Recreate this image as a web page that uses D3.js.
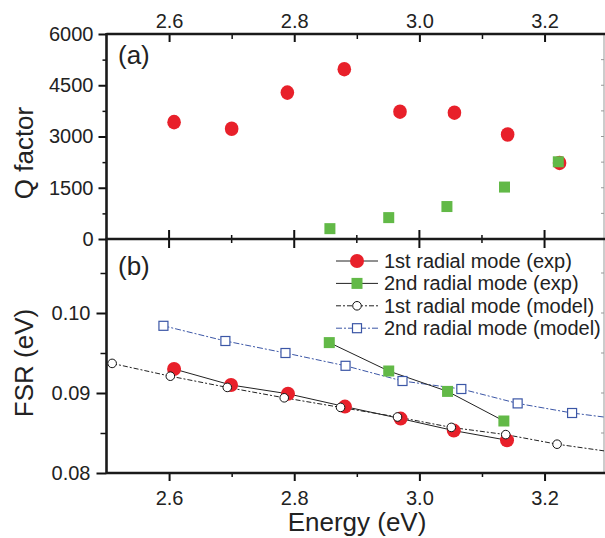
<!DOCTYPE html>
<html>
<head>
<meta charset="utf-8">
<script src="https://cdn.jsdelivr.net/npm/d3@7"></script>
<style>
  html, body { margin: 0; padding: 0; background: #fff; }
  svg { display: block; font-family: "Liberation Sans", Arial, sans-serif; }
</style>
</head>
<body>
<svg id="chart" width="605" height="538"></svg>
<script>
// panel (a): Q factor
const qEnergy1 = [2.608, 2.700, 2.789, 2.880, 2.969, 3.056, 3.141, 3.224];
const qValue1  = [3420, 3226, 4285, 4970, 3726, 3697, 3059, 2226];
const qEnergy2 = [2.857, 2.951, 3.044, 3.136, 3.222];
const qValue2  = [303, 626, 950, 1520, 2260];

// panel (b): FSR
const fsrEnergyExp1 = [2.608, 2.699, 2.790, 2.881, 2.970, 3.055, 3.140];
const fsrExp1       = [0.0930, 0.0910, 0.0899, 0.0883, 0.0868, 0.0853, 0.0841];
const fsrEnergyExp2 = [2.856, 2.951, 3.045, 3.135];
const fsrExp2       = [0.0963, 0.09275, 0.0902, 0.0865];
const fsrEnergyMod1 = [2.509, 2.602, 2.693, 2.784, 2.874, 2.965, 3.051, 3.138, 3.220, 3.310];
const fsrMod1       = [0.0937, 0.0921, 0.0907, 0.0894, 0.0882, 0.0870, 0.0857, 0.0848, 0.0836, 0.0826];
const fsrEnergyMod2 = [2.591, 2.690, 2.786, 2.882, 2.973, 3.067, 3.157, 3.244, 3.335];
const fsrMod2       = [0.0984, 0.0965, 0.0950, 0.0934, 0.0915, 0.0905, 0.0887, 0.0875, 0.0866];

const energyTicks = [2.6, 2.8, 3.0, 3.2];
const energyMinor = [2.7, 2.9, 3.1];
const qTicks = [0, 1500, 3000, 4500, 6000];
const qMinor = [750, 2250, 3750, 5250];
const fsrTicks = [0.08, 0.09, 0.10];
const fsrMinor = [0.085, 0.095, 0.105];

const legendLabels = [
  "1st radial mode (exp)",
  "2nd radial mode (exp)",
  "1st radial mode (model)",
  "2nd radial mode (model)"
];

const RED = "#e8202a", GREEN = "#62b947", BLUE = "#3b56a6";

const svg = d3.select("#chart");
const left = 106.5, right = 604, topA = 34, mid = 239, bottomB = 473;

const x = d3.scaleLinear().domain([2.5, 3.295]).range([left, right]);
const yQ = d3.scaleLinear().domain([0, 6000]).range([mid, topA]);
const yF = d3.scaleLinear().domain([0.08, 0.10]).range([bottomB, 313]);

const zip = (a, b) => a.map((v, i) => [v, b[i]]);

const defs = svg.append("defs");
defs.append("clipPath").attr("id", "clipB")
  .append("rect").attr("x", left).attr("y", mid).attr("width", right - left).attr("height", bottomB - mid);
defs.append("clipPath").attr("id", "clipA")
  .append("rect").attr("x", left).attr("y", topA).attr("width", right - left).attr("height", mid - topA);

// same look for every axis
function styleAxis(g, width) {
  g.select(".domain").remove();
  g.selectAll(".tick line").attr("stroke", "#111").attr("stroke-width", width);
  g.selectAll("text").attr("font-size", 20).attr("fill", "#222");
}

// ---- axes
// top axis of (a), ticks inward
svg.append("g").attr("transform", `translate(0,${topA})`)
  .call(d3.axisTop(x).tickValues(energyTicks).tickSize(-8).tickPadding(6).tickFormat(d3.format(".1f")))
  .call(g => styleAxis(g, 2));
svg.append("g").attr("transform", `translate(0,${topA})`)
  .call(d3.axisTop(x).tickValues(energyMinor).tickSize(-5).tickFormat(""))
  .call(g => styleAxis(g, 1.5));

// left axis of (a)
svg.append("g").attr("transform", `translate(${left},0)`)
  .call(d3.axisLeft(yQ).tickValues(qTicks).tickSize(8).tickPadding(5).tickFormat(d3.format("d")))
  .call(g => styleAxis(g, 2));
svg.append("g").attr("transform", `translate(${left},0)`)
  .call(d3.axisLeft(yQ).tickValues(qMinor).tickSize(4).tickFormat(""))
  .call(g => styleAxis(g, 1.5));

// left axis of (b)
svg.append("g").attr("transform", `translate(${left},0)`)
  .call(d3.axisLeft(yF).tickValues(fsrTicks).tickSize(10).tickPadding(6).tickFormat(d3.format(".2f")))
  .call(g => styleAxis(g, 2));
svg.append("g").attr("transform", `translate(${left},0)`)
  .call(d3.axisLeft(yF).tickValues(fsrMinor).tickSize(6).tickFormat(""))
  .call(g => styleAxis(g, 1.5));

// bottom axis of (b)
svg.append("g").attr("transform", `translate(0,${bottomB})`)
  .call(d3.axisBottom(x).tickValues(energyTicks).tickSize(8).tickPadding(10).tickFormat(d3.format(".1f")))
  .call(g => styleAxis(g, 2));
svg.append("g").attr("transform", `translate(0,${bottomB})`)
  .call(d3.axisBottom(x).tickValues(energyMinor).tickSize(4).tickFormat(""))
  .call(g => styleAxis(g, 1.5));

// shared middle line: ticks cross both panels
const midTicks = svg.append("g");
midTicks.selectAll("line.maj").data(energyTicks).join("line")
  .attr("x1", d => x(d)).attr("x2", d => x(d)).attr("y1", mid - 9).attr("y2", mid + 9)
  .attr("stroke", "#111").attr("stroke-width", 2);
midTicks.selectAll("line.min").data(energyMinor).join("line")
  .attr("x1", d => x(d)).attr("x2", d => x(d)).attr("y1", mid - 4).attr("y2", mid + 4)
  .attr("stroke", "#111").attr("stroke-width", 1.5);

// right edge, thin grey with small inward ticks
svg.append("line").attr("x1", right).attr("x2", right).attr("y1", topA).attr("y2", bottomB)
  .attr("stroke", "#999").attr("stroke-width", 1);
svg.append("g").selectAll("line").data(qTicks.concat(qMinor)).join("line")
  .attr("x1", right - 3).attr("x2", right).attr("y1", d => yQ(d)).attr("y2", d => yQ(d))
  .attr("stroke", "#999");
svg.append("g").selectAll("line").data(fsrTicks.concat(fsrMinor)).join("line")
  .attr("x1", right - 3).attr("x2", right).attr("y1", d => yF(d)).attr("y2", d => yF(d))
  .attr("stroke", "#999");

// frame lines
const frame = svg.append("g").attr("stroke", "#1a1a1a").attr("stroke-width", 2.6).attr("fill", "none");
frame.append("line").attr("x1", left).attr("x2", right + 1).attr("y1", topA).attr("y2", topA);
frame.append("line").attr("x1", left - 1).attr("x2", right + 1).attr("y1", mid).attr("y2", mid);
frame.append("line").attr("x1", left).attr("x2", right + 1).attr("y1", bottomB).attr("y2", bottomB);
frame.append("line").attr("x1", left).attr("x2", left).attr("y1", topA - 1).attr("y2", bottomB + 1);

// ---- panel (a) markers
const gA = svg.append("g").attr("clip-path", "url(#clipA)");
gA.selectAll("ellipse").data(zip(qEnergy1, qValue1)).join("ellipse")
  .attr("cx", d => x(d[0])).attr("cy", d => yQ(d[1]))
  .attr("rx", 6.8).attr("ry", 7.3).attr("fill", RED);
gA.selectAll("rect").data(zip(qEnergy2, qValue2)).join("rect")
  .attr("x", d => x(d[0]) - 5.5).attr("y", d => yQ(d[1]) - 5.5)
  .attr("width", 11).attr("height", 11).attr("fill", GREEN);

// ---- panel (b)
const gB = svg.append("g").attr("clip-path", "url(#clipB)");
const line = d3.line().x(d => x(d[0])).y(d => yF(d[1]));

const mod2 = zip(fsrEnergyMod2, fsrMod2);
const mod1 = zip(fsrEnergyMod1, fsrMod1);
const exp1 = zip(fsrEnergyExp1, fsrExp1);
const exp2 = zip(fsrEnergyExp2, fsrExp2);

gB.append("path").datum(mod2).attr("d", line).attr("fill", "none")
  .attr("stroke", BLUE).attr("stroke-width", 1).attr("stroke-dasharray", "6,2,2,2");
gB.append("path").datum(mod1).attr("d", line).attr("fill", "none")
  .attr("stroke", "#222").attr("stroke-width", 1).attr("stroke-dasharray", "5,2,2,2");
gB.append("path").datum(exp1).attr("d", line).attr("fill", "none")
  .attr("stroke", "#222").attr("stroke-width", 1);
gB.append("path").datum(exp2).attr("d", line).attr("fill", "none")
  .attr("stroke", "#222").attr("stroke-width", 1);

gB.selectAll("circle.e1").data(exp1).join("circle")
  .attr("cx", d => x(d[0])).attr("cy", d => yF(d[1])).attr("r", 7).attr("fill", RED);
gB.selectAll("rect.e2").data(exp2).join("rect")
  .attr("x", d => x(d[0]) - 5.5).attr("y", d => yF(d[1]) - 5.5)
  .attr("width", 11).attr("height", 11).attr("fill", GREEN);
gB.selectAll("rect.m2").data(mod2).join("rect")
  .attr("x", d => x(d[0]) - 4.5).attr("y", d => yF(d[1]) - 4.5)
  .attr("width", 9).attr("height", 9).attr("fill", "#fff").attr("stroke", BLUE).attr("stroke-width", 1.2);
gB.selectAll("circle.m1").data(mod1).join("circle")
  .attr("cx", d => x(d[0])).attr("cy", d => yF(d[1])).attr("r", 4.3)
  .attr("fill", "#fff").attr("stroke", "#111").attr("stroke-width", 1);

// ---- legend
const legend = svg.append("g").attr("transform", "translate(336,261)");
const rowH = 22.4;
legendLabels.forEach((label, i) => {
  const row = legend.append("g").attr("transform", `translate(0,${i * rowH})`);
  const ln = row.append("line").attr("x1", 0).attr("x2", 42).attr("y1", 0).attr("y2", 0)
    .attr("stroke", i === 3 ? BLUE : "#222").attr("stroke-width", 1);
  if (i === 2) ln.attr("stroke-dasharray", "5,2,2,2");
  if (i === 3) ln.attr("stroke-dasharray", "6,2,2,2");
  if (i === 0) row.append("circle").attr("cx", 21).attr("r", 7).attr("fill", RED);
  if (i === 1) row.append("rect").attr("x", 15.5).attr("y", -5.5).attr("width", 11).attr("height", 11).attr("fill", GREEN);
  if (i === 2) row.append("circle").attr("cx", 21).attr("r", 4.3).attr("fill", "#fff").attr("stroke", "#111");
  if (i === 3) row.append("rect").attr("x", 16.5).attr("y", -4.5).attr("width", 9).attr("height", 9)
    .attr("fill", "#fff").attr("stroke", BLUE).attr("stroke-width", 1.2);
  row.append("text").attr("x", 48).attr("dy", "0.35em").attr("font-size", 20).attr("fill", "#222").text(label);
});

// ---- labels
svg.append("text").attr("x", 118).attr("y", 64).attr("font-size", 26).attr("fill", "#222").text("(a)");
svg.append("text").attr("x", 118).attr("y", 275).attr("font-size", 26).attr("fill", "#222").text("(b)");
svg.append("text").attr("transform", "translate(33,153) rotate(-90)").attr("text-anchor", "middle")
  .attr("font-size", 26).attr("fill", "#222").text("Q factor");
svg.append("text").attr("transform", "translate(33,363) rotate(-90)").attr("text-anchor", "middle")
  .attr("font-size", 26).attr("fill", "#222").text("FSR (eV)");
svg.append("text").attr("x", 357).attr("y", 531).attr("text-anchor", "middle")
  .attr("font-size", 26).attr("fill", "#222").text("Energy (eV)");
</script>
</body>
</html>
